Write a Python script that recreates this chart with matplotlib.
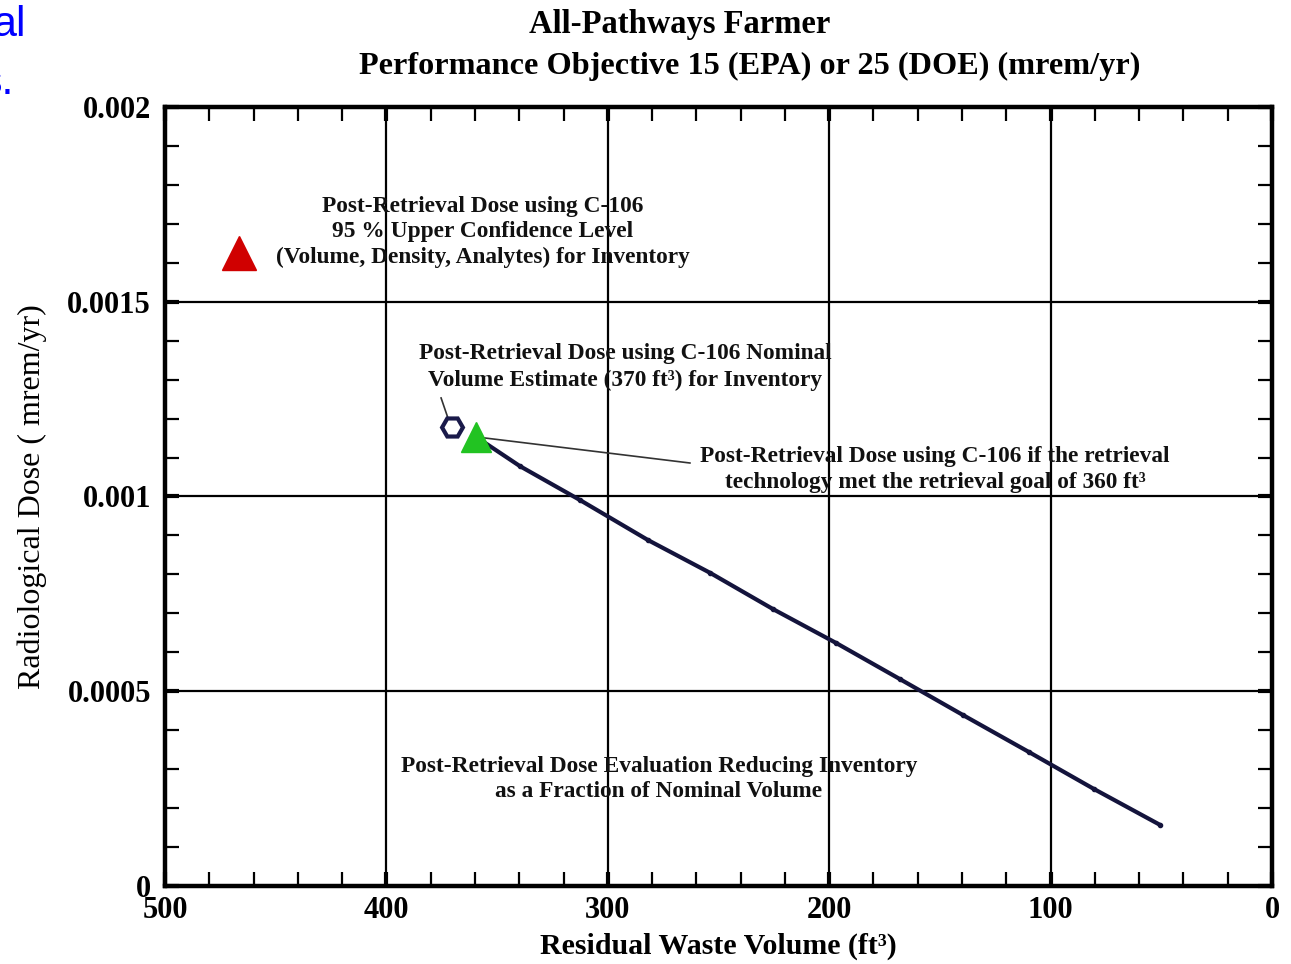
import matplotlib
matplotlib.use("Agg")
import matplotlib.pyplot as plt
from matplotlib.ticker import MultipleLocator, FixedLocator

# ---- data ----
line_volume = [359.5, 339.7, 312.6, 281.8, 253.8, 225.4, 196.9, 168.0, 139.6, 109.8, 80.4, 50.6]
line_dose = [0.001153, 0.001078, 0.000991, 0.000888, 0.000804, 0.000711, 0.000624,
             0.000531, 0.000439, 0.000344, 0.000249, 0.000157]
ucl_point = (466.6, 0.001625)       # red triangle, 95% UCL
nominal_point = (370.4, 0.001178)   # open hexagon, nominal 370 ft3
goal_point = (359.5, 0.001153)      # green triangle, 360 ft3 goal

x_ticks = [500, 400, 300, 200, 100, 0]
x_ticklabels = ["500", "400", "300", "200", "100", "0"]
y_ticks = [0, 0.0005, 0.001, 0.0015, 0.002]
y_ticklabels = ["0", "0.0005", "0.001", "0.0015", "0.002"]

title_lines = ["All-Pathways Farmer",
               "Performance Objective 15 (EPA) or 25 (DOE) (mrem/yr)"]
label_ucl = "Post-Retrieval Dose using C-106\n95 % Upper Confidence Level\n(Volume, Density, Analytes) for Inventory"
label_nominal = "Post-Retrieval Dose using C-106 Nominal\nVolume Estimate (370 ft³) for Inventory"
label_goal = "Post-Retrieval Dose using C-106 if the retrieval\ntechnology met the retrieval goal of 360 ft³"
label_line = "Post-Retrieval Dose Evaluation Reducing Inventory\nas a Fraction of Nominal Volume"

serif = ["Liberation Serif", "DejaVu Serif"]

fig = plt.figure(figsize=(12.91, 9.64), dpi=100)
ax = fig.add_axes([165/1291, 1-886/964, (1272-165)/1291, (886-107)/964])

ax.set_xlim(500, 0)
ax.set_ylim(0, 0.002)

# grid at major ticks
for xv in [400, 300, 200, 100]:
    ax.axvline(xv, color="black", lw=1.6, zorder=1)
for yv in [0.0005, 0.001, 0.0015]:
    ax.axhline(yv, color="black", lw=1.6, zorder=1)

# main line
ax.plot(line_volume, line_dose, color="#14143c", lw=3, marker="o", ms=3,
        solid_capstyle="round", zorder=3)

# leader lines
ax.plot([goal_point[0], 262.9], [goal_point[1], 0.001086], color="#333333", lw=1.2, zorder=2)
ax.plot([372.2, 375.3], [0.0012015, 0.001253], color="#333333", lw=1.2, zorder=2)

# markers
ax.plot(*ucl_point, marker="^", ms=24, color="#d00000", mec="#d00000", zorder=4)
ax.plot(*nominal_point, marker="H", ms=15, mfc="white", mec="#1a1a4a", mew=3, zorder=4)
ax.plot(*goal_point, marker="^", ms=22, color="#22c322", mec="#22c322", zorder=5)

# annotations
tkw = dict(ha="center", va="center", family=serif, fontsize=16.8, fontweight="bold",
           linespacing=1.3, color="#111111")
ax.text(356.4, 0.001679, label_ucl, **tkw)
ax.text(292.2, 0.0013325, label_nominal, **tkw)
ax.text(152.2, 0.0010693, label_goal, **tkw)
ax.text(276.9, 0.0002747, label_line, **tkw)

# ticks
ax.xaxis.set_major_locator(FixedLocator(x_ticks))
ax.set_xticklabels(x_ticklabels)
ax.xaxis.set_minor_locator(MultipleLocator(20))
ax.yaxis.set_major_locator(FixedLocator(y_ticks))
ax.set_yticklabels(y_ticklabels)
ax.yaxis.set_minor_locator(MultipleLocator(0.0001))
ax.tick_params(which="both", direction="in", top=True, right=True, width=1.6, color="black")
ax.tick_params(which="minor", length=10)
ax.tick_params(which="major", length=10, width=3)
ax.tick_params(axis="x", which="major", pad=7)
ax.tick_params(axis="y", which="major", pad=10)
for lab in ax.get_xticklabels() + ax.get_yticklabels():
    lab.set_family(serif)
    lab.set_fontsize(22)
    lab.set_fontweight("bold")

for s in ax.spines.values():
    s.set_linewidth(3.2)

ax.set_xlabel("Residual Waste Volume (ft³)", family=serif, fontsize=21.5, fontweight="bold",
              va="center")
ax.xaxis.set_label_coords((718-165)/(1272-165), -(946-886)/(886-107))
ax.set_ylabel("Radiological Dose ( mrem/yr)", family=serif, fontsize=23, va="center")
ax.yaxis.set_label_coords(-(165-32)/(1272-165), (886-497)/(886-107))

# title
fig.text(680/1291, 1-25/964, title_lines[0], ha="center", va="center", family=serif,
         fontsize=23.5, fontweight="bold")
fig.text(750/1291, 1-66/964, title_lines[1], ha="center", va="center", family=serif,
         fontsize=23.2, fontweight="bold")

# cut-off slide text at top left (cut off in the reference as well)
fig.text(26/1291, 1-36/964, "al", ha="right", va="baseline", family=["Liberation Sans"],
         fontsize=31, color="#0000ff")
fig.text(14/1291, 1-94/964, "s.", ha="right", va="baseline", family=["Liberation Sans"],
         fontsize=31, color="#0000ff")

fig.savefig("out.png", dpi=100)
